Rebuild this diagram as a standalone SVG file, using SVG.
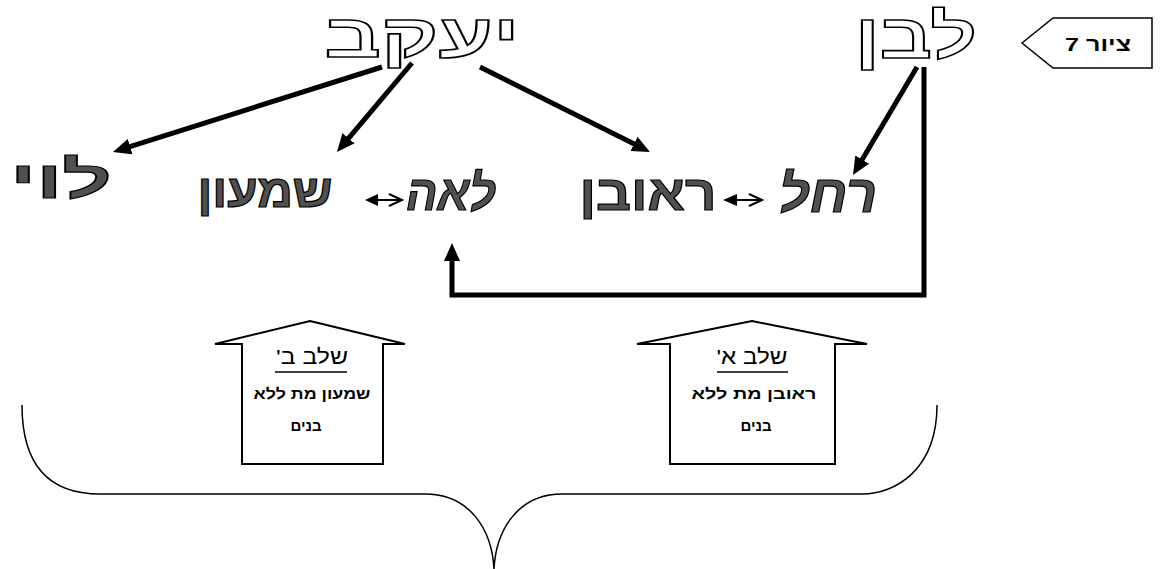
<svg xmlns="http://www.w3.org/2000/svg" width="1165" height="569" viewBox="0 0 1165 569">
<style>
.big{font-family:"Liberation Sans","DejaVu Sans",sans-serif;font-weight:bold;text-anchor:middle;direction:rtl;unicode-bidi:embed}
.hollow{fill:#fff;stroke:#000;stroke-width:1.6}
.gray{fill:#505050;stroke:#000;stroke-width:1.2}
.ital{font-style:italic}
.small{font-family:"Liberation Sans","DejaVu Sans",sans-serif;text-anchor:middle;direction:rtl;unicode-bidi:embed;fill:#000}
.conn{fill:none;stroke:#000;stroke-width:5}
.house{fill:#fff;stroke:#000;stroke-width:2;stroke-linejoin:miter}
.dbl{fill:none;stroke:#000;stroke-width:2}
</style>
<defs>
<marker id="ah" markerUnits="userSpaceOnUse" markerWidth="18" markerHeight="16" refX="6" refY="8" orient="auto" viewBox="0 0 18 16">
<path d="M0,0 L18,8 L0,16 z" fill="#000"/>
</marker>
</defs>

<g id="connectors">
<line class="conn" x1="382" y1="67" x2="124.4" y2="148.4" marker-end="url(#ah)"/>
<line class="conn" x1="412" y1="63" x2="344.7" y2="142.8" marker-end="url(#ah)"/>
<line class="conn" x1="480" y1="67" x2="639.3" y2="146.6" marker-end="url(#ah)"/>
<line class="conn" x1="917" y1="67" x2="859.1" y2="164.7" marker-end="url(#ah)"/>
<path class="conn" d="M924,67 V295 H452 V255" marker-end="url(#ah)"/>
<g id="dbl1">
<path d="M365,200 L378,194 L378,206 z" fill="#000"/>
<line class="dbl" x1="377" y1="200" x2="401" y2="200"/>
<polyline class="dbl" points="389,194 402,200 389,206"/>
</g>
<g id="dbl2">
<path d="M723,200 L737,194 L737,206 z" fill="#000"/>
<line class="dbl" x1="736" y1="200" x2="761" y2="200"/>
<polyline class="dbl" points="749,194 762,200 749,206"/>
</g>
</g>

<g id="node-yaakov"><text class="big hollow" x="422" y="57" font-size="61" textLength="195" lengthAdjust="spacingAndGlyphs">יעקב</text></g>
<g id="node-lavan"><text class="big hollow" x="916" y="58" font-size="62" textLength="122" lengthAdjust="spacingAndGlyphs">לבן</text></g>
<g id="node-levi"><text class="big gray" x="61" y="198" font-size="52" textLength="102" lengthAdjust="spacingAndGlyphs">לוי</text></g>
<g id="node-shimon"><text class="big gray" x="265" y="207" font-size="46" textLength="135" lengthAdjust="spacingAndGlyphs">שמעון</text></g>
<g id="node-leah"><text class="big gray ital" x="451" y="210" font-size="50" textLength="90" lengthAdjust="spacingAndGlyphs">לאה</text></g>
<g id="node-reuven"><text class="big gray" x="648" y="210" font-size="50" textLength="137" lengthAdjust="spacingAndGlyphs">ראובן</text></g>
<g id="node-rachel"><text class="big gray ital" x="828" y="212" font-size="52" textLength="98" lengthAdjust="spacingAndGlyphs">רחל</text></g>

<g id="label-tziyur">
<path d="M1022,43 L1053,18 L1152,18 L1152,68 L1053,68 z" fill="#fff" stroke="#000" stroke-width="1.5"/>
<text class="small" x="1098" y="51" font-size="19" font-weight="bold" textLength="66" lengthAdjust="spacingAndGlyphs">ציור 7</text>
</g>

<g id="step-b">
<path class="house" d="M310,321 L405,344 L383,344 L383,464 L242,464 L242,344 L215,344 z"/>
<text class="small" x="312" y="364" font-size="21" textLength="72" lengthAdjust="spacingAndGlyphs">שלב ב'</text>
<line x1="275" y1="372" x2="347" y2="372" stroke="#000" stroke-width="1.5"/>
<text class="small" x="312" y="399" font-size="15" font-weight="bold" textLength="117" lengthAdjust="spacingAndGlyphs">שמעון מת ללא</text>
<text class="small" x="306" y="431" font-size="15" font-weight="bold">בנים</text>
</g>

<g id="step-a">
<path class="house" d="M752,321 L867,344 L835,344 L835,464 L670,464 L670,344 L637,344 z"/>
<text class="small" x="752" y="364" font-size="21" textLength="71" lengthAdjust="spacingAndGlyphs">שלב א'</text>
<line x1="717" y1="372" x2="788" y2="372" stroke="#000" stroke-width="1.5"/>
<text class="small" x="754" y="399" font-size="15" font-weight="bold" textLength="125" lengthAdjust="spacingAndGlyphs">ראובן מת ללא</text>
<text class="small" x="756" y="431" font-size="15" font-weight="bold">בנים</text>
</g>

<g id="brace">
<path d="M22,405 C22,460 45,494 100,494 L425,494 C470,494 492,530 494,569 C496,530 518,494 562,494 L862,494 C895,494 937,470 937,405" fill="none" stroke="#000" stroke-width="1.5"/>
</g>
</svg>
